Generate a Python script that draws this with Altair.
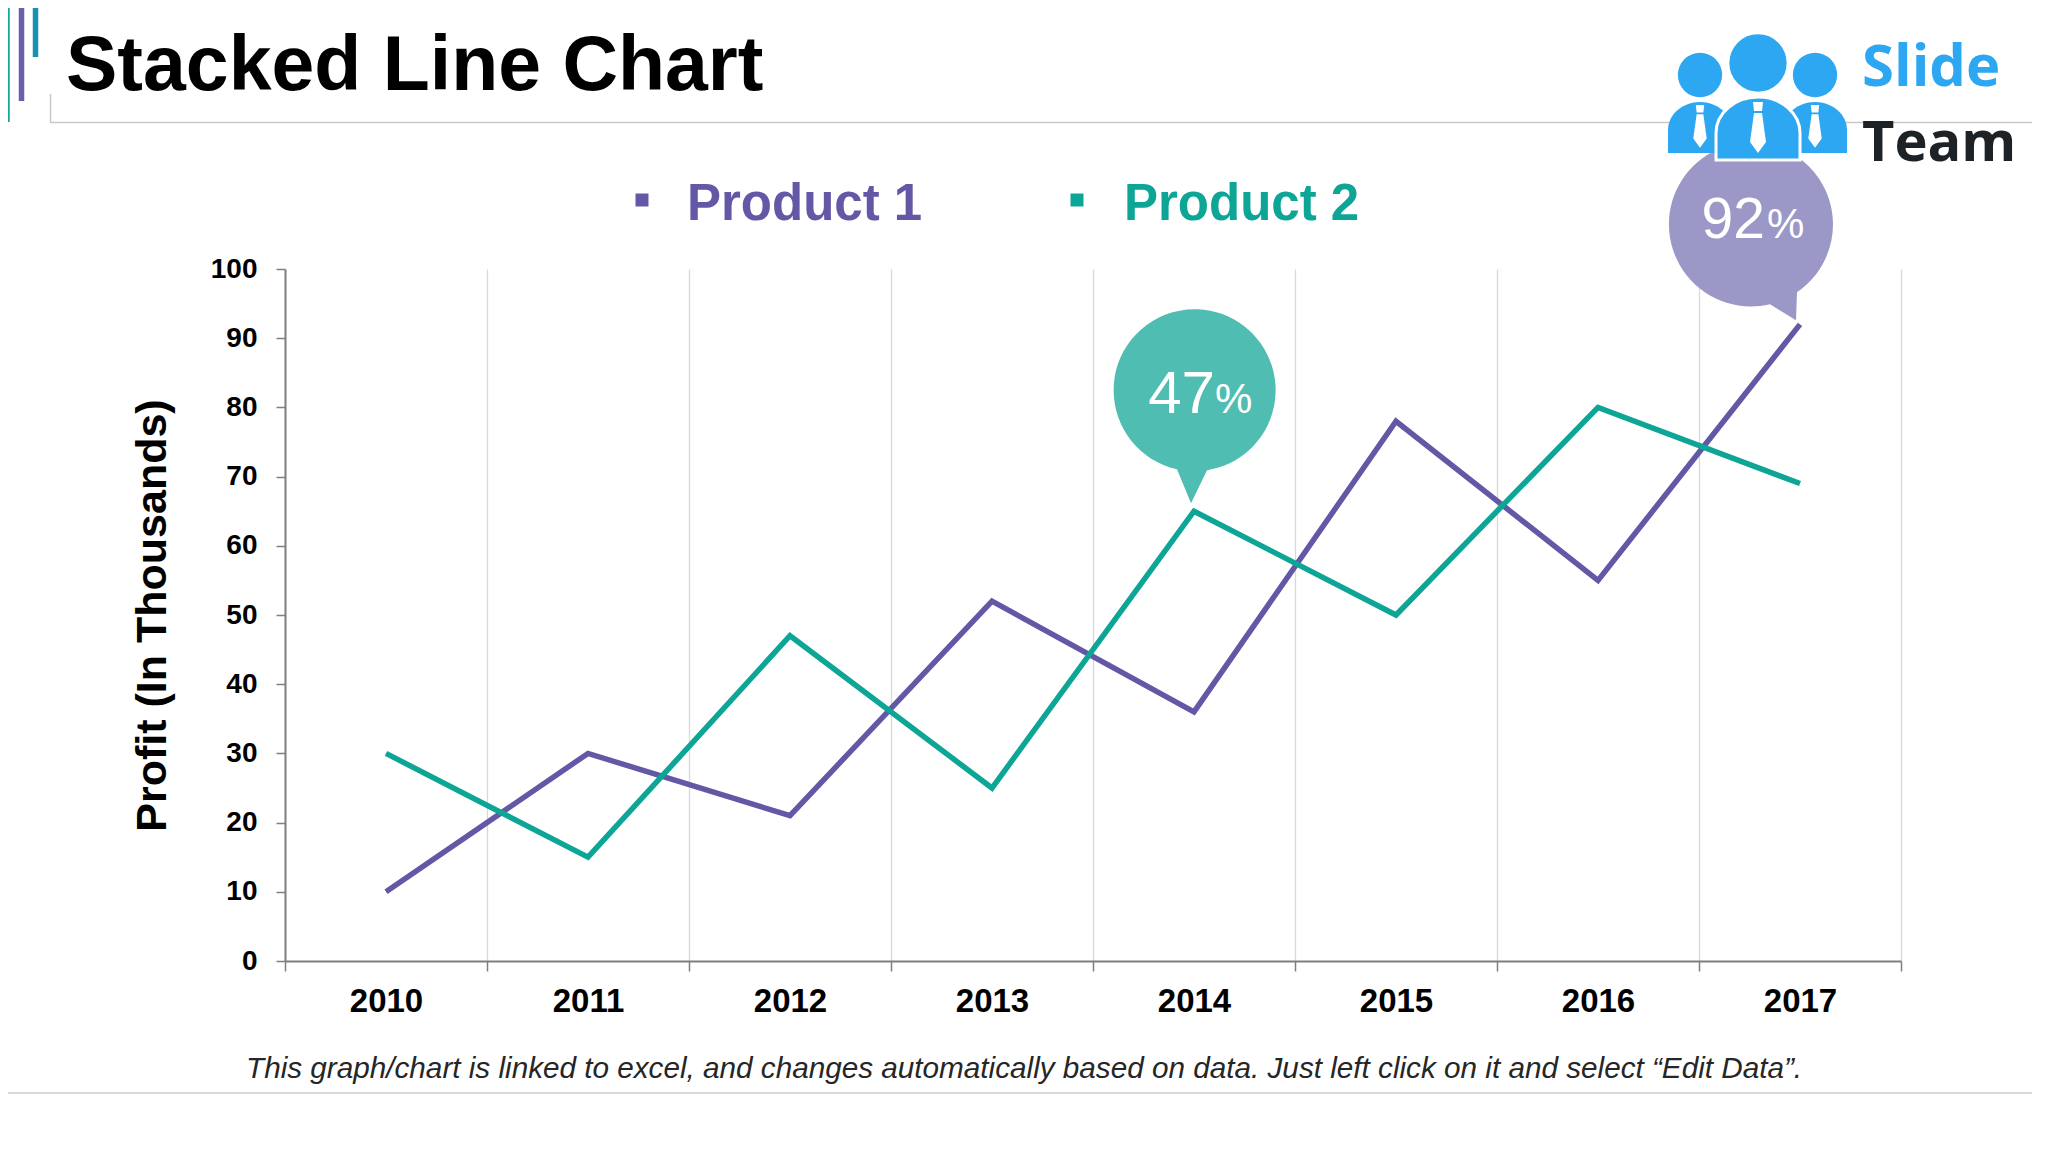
import altair as alt
import pandas as pd

# ---------------- data ----------------
years = ["2010", "2011", "2012", "2013", "2014", "2015", "2016", "2017"]
product_1 = [10, 30, 21, 52, 36, 78, 55, 92]
product_2 = [30, 15, 47, 25, 65, 50, 80, 69]
series_names = ["Product 1", "Product 2"]
series_colors = ["#6258a6", "#0da596"]
y_tick_values = [0, 10, 20, 30, 40, 50, 60, 70, 80, 90, 100]

callout_years = ["2014", "2017"]
callout_values = [65, 92]
callout_numbers = ["47", "92"]
callout_colors = ["#4fbdb1", "#9b97c7"]

chart_title = "Stacked Line Chart"
y_axis_title = "Profit (In Thousands)"
footnote_text = ("This graph/chart is linked to excel, and changes automatically based on data. "
                 "Just left click on it and select \u201cEdit Data\u201d.")
logo_words = ["Slide", "Team"]

# ---------------- layout ----------------
PLOT_W, PLOT_H = 1616, 692
X0, Y0 = 285, 269          # page position of plot origin
FONT = "Liberation Sans"


def vx(x):
    return alt.value(x - X0)


def vy(y):
    return alt.value(y - Y0)


one = pd.DataFrame({"k": [0]})

df = pd.DataFrame({
    "year": years * 2,
    "value": product_1 + product_2,
    "series": [series_names[0]] * len(years) + [series_names[1]] * len(years),
})

x_axis = alt.Axis(
    tickBand="extent", grid=True, gridColor="#d9d9d9", gridWidth=1.3,
    domainColor="#7f7f7f", domainWidth=2, tickColor="#7f7f7f", tickSize=10, tickWidth=1.5,
    labelFont=FONT, labelFontWeight="bold", labelFontSize=33, labelColor="#000000",
    labelPadding=14, labelAngle=0,
)
y_axis = alt.Axis(
    values=y_tick_values, grid=False,
    domainColor="#7f7f7f", domainWidth=2, tickColor="#7f7f7f", tickSize=9, tickWidth=1.5,
    labelFont=FONT, labelFontWeight="bold", labelFontSize=28, labelColor="#000000",
    labelPadding=19,
    titleFont=FONT, titleFontWeight="bold", titleFontSize=43, titleColor="#000000",
    titlePadding=36,
)

x_enc = alt.X("year:O", sort=years,
              scale=alt.Scale(type="band", domain=years, paddingInner=0, paddingOuter=0),
              bandPosition=0.5, axis=x_axis, title=None)
y_enc = alt.Y("value:Q", scale=alt.Scale(domain=[0, 100], nice=False, zero=True),
              axis=y_axis, title=y_axis_title)

lines = alt.Chart(df).mark_line(strokeWidth=5.5, strokeJoin="miter").encode(
    x=x_enc, y=y_enc,
    color=alt.Color("series:N", scale=alt.Scale(domain=series_names, range=series_colors), legend=None),
)

layers = []

# decorative bars top-left
for x, y2, c in [(7, 122, "#17a89a"), (21.5, 101, "#6a5fa8"), (35.5, 57, "#1990b0")]:
    layers.append(alt.Chart(one).mark_rule(strokeWidth=5.5, color=c).encode(
        x=vx(x), y=vy(8), y2=vy(y2)))

# header lines
layers.append(alt.Chart(one).mark_rule(strokeWidth=1.5, color="#c8c8c8").encode(
    x=vx(50), x2=vx(2040), y=vy(122.5)))
layers.append(alt.Chart(one).mark_rule(strokeWidth=1.5, color="#c8c8c8").encode(
    x=vx(50.5), y=vy(94), y2=vy(122.5)))
# bottom line
layers.append(alt.Chart(one).mark_rule(strokeWidth=2, color="#d9d9d9").encode(
    x=vx(8), x2=vx(2040), y=vy(1093)))

# title
layers.append(alt.Chart(one).mark_text(
    text=chart_title, font=FONT, fontWeight="bold", fontSize=77, color="#000000",
    align="left", baseline="alphabetic").encode(x=vx(66), y=vy(90)))

# legend
for (sx, tx), name, col in zip([(642, 687), (1077, 1124)], series_names, series_colors):
    layers.append(alt.Chart(one).mark_square(size=169, color=col, opacity=1).encode(
        x=vx(sx), y=vy(200)))
    layers.append(alt.Chart(one).mark_text(
        text=name, font=FONT, fontWeight="bold", fontSize=51, color=col,
        align="left", baseline="alphabetic").encode(x=vx(tx), y=vy(220)))

# footnote
layers.append(alt.Chart(one).mark_text(
    text=footnote_text, font=FONT, fontStyle="italic", fontSize=29.7,
    color="#262626", align="left", baseline="alphabetic").encode(x=vx(246), y=vy(1078)))

layers.append(lines)

# callout bubbles (anchored at data points)
bubble_paths = [
    "M -17 -42 L -3 -8 L 13 -41 A 81 81 0 1 0 -17 -42 Z",
    "M -30 -20.2 L -4 -4 L -3 -32.1 A 82 82 0 1 0 -30 -20.2 Z",
]
num_offsets = [(21, -98, 60), (-35, -86, 57)]
pct_offsets = [(21, -98, 42), (-33, -86, 42)]
for i in range(2):
    d = pd.DataFrame({"year": [callout_years[i]], "value": [callout_values[i]],
                      "num": [callout_numbers[i]], "pct": ["%"]})
    layers.append(alt.Chart(d).mark_point(
        shape=bubble_paths[i], size=4, filled=True, color=callout_colors[i], opacity=1,
        strokeWidth=0).encode(x=x_enc, y=y_enc))
    dx, dy, fs = num_offsets[i]
    layers.append(alt.Chart(d).mark_text(
        font=FONT, fontSize=fs, color="white", align="right", baseline="alphabetic",
        dx=dx, dy=dy).encode(x=x_enc, y=y_enc, text="num:N"))
    dx, dy, fs = pct_offsets[i]
    layers.append(alt.Chart(d).mark_text(
        font=FONT, fontSize=fs, color="white", align="left", baseline="alphabetic",
        dx=dx, dy=dy).encode(x=x_enc, y=y_enc, text="pct:N"))

# logo
LOGO = "#2ea7f2"


def body_path(w, h, ry):
    a = w / 2
    return f"M {-a} 0 L {-a} {-(h - ry)} A {a} {ry} 0 0 1 {a} {-(h - ry)} L {a} 0 Z"


def tie_path(s):
    pts = "M -5 0 L 5 0 L 4 9 L -4 9 Z M -4 11 L 4 11 L 8 40 L 0 51 L -8 40 Z"
    out = []
    for tok in pts.split():
        try:
            out.append(f"{float(tok) * s:.2f}")
        except ValueError:
            out.append(tok)
    return " ".join(out)


people = [  # head cx, head cy, head r, body bottom, body w, body h, ry, tie top, tie scale, outline
    (1700, 75, 25, 153, 64, 51, 28, 105, 0.84, 0),
    (1815, 75, 25, 153, 64, 51, 28, 105, 0.84, 0),
    (1758, 63, 31, 160, 84, 63, 36, 102, 1.0, 3),
]
for hx, hy, hr, bb, bw, bh, ry, tt, ts, ow in people:
    layers.append(alt.Chart(one).mark_point(
        shape=body_path(bw, bh, ry), size=4, filled=True, color=LOGO, opacity=1,
        stroke="white", strokeWidth=ow).encode(x=vx(hx), y=vy(bb)))
    layers.append(alt.Chart(one).mark_point(
        shape=tie_path(ts), size=4, filled=True, color="white", opacity=1,
        strokeWidth=0).encode(x=vx(hx), y=vy(tt)))
    layers.append(alt.Chart(one).mark_circle(
        size=3.14159 * (hr + ow) ** 2, color=LOGO, opacity=1,
        stroke="white", strokeWidth=ow).encode(x=vx(hx), y=vy(hy)))

layers.append(alt.Chart(one).mark_text(
    text=logo_words[0], font="Open Sans", fontWeight="bold", fontSize=58, color=LOGO,
    align="left", baseline="alphabetic").encode(x=vx(1862), y=vy(86)))
layers.append(alt.Chart(one).mark_text(
    text=logo_words[1], font="Open Sans", fontWeight="bold", fontSize=56, color="#1d2227",
    align="left", baseline="alphabetic").encode(x=vx(1862), y=vy(161)))

chart = alt.layer(*layers).properties(
    width=PLOT_W, height=PLOT_H,
    padding={"left": X0 - 8, "top": Y0 - 8, "right": 2032 - X0 - PLOT_W, "bottom": 1136 - Y0 - PLOT_H},
    autosize="none",
    background="white",
).configure_view(stroke=None)

chart.save("out.html", embed_options={"renderer": "svg", "actions": False})
